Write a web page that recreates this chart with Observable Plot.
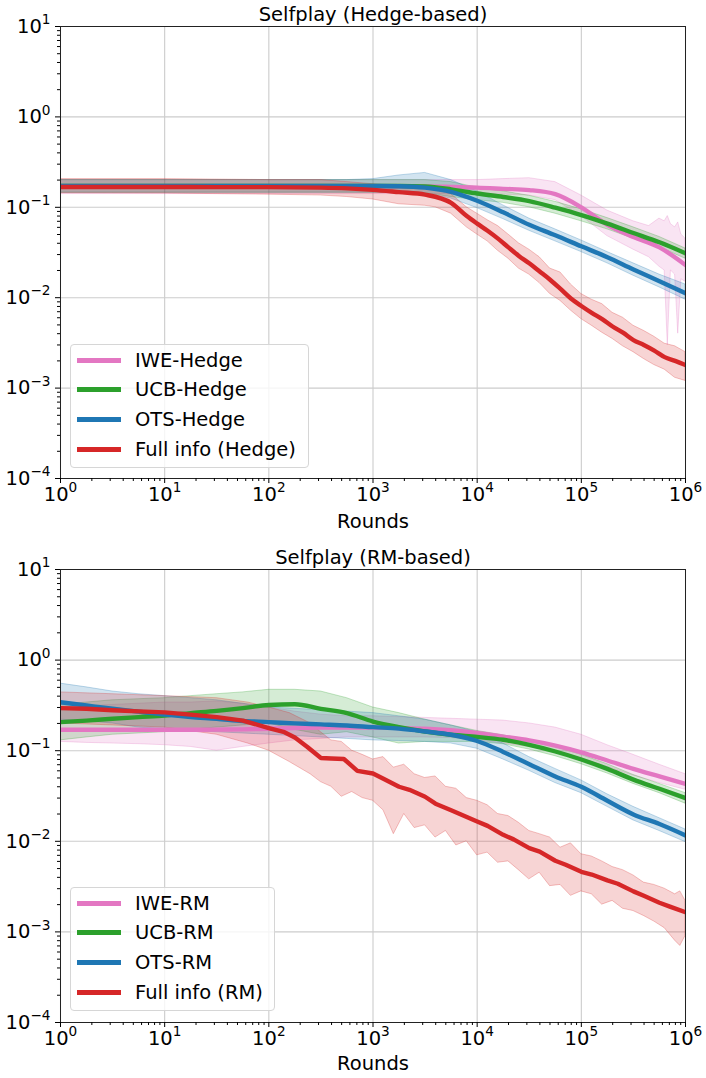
<!DOCTYPE html>
<html><head><meta charset="utf-8">
<script src="https://cdn.jsdelivr.net/npm/d3@7"></script>
<script src="https://cdn.jsdelivr.net/npm/@observablehq/plot@0.6"></script>
<style>
body{margin:0;background:#fff;font-family:"DejaVu Sans",sans-serif;}
#wrap{position:relative;width:706px;height:1078px;overflow:hidden;}
.panel{position:relative;width:706px;height:539px;}
.panel svg{display:block;}
.legend{position:absolute;background:rgba(255,255,255,0.8);border:1px solid #d6d6d6;border-radius:4px;box-sizing:border-box;font-size:19.5px;color:#000;}
.legend .sw{position:absolute;left:6px;width:44px;height:5px;}
.legend .lab{position:absolute;left:64px;white-space:nowrap;line-height:1;}
</style></head>
<body><div id="wrap"></div>
<script>
// ---------------- data (x given as log10 of Rounds) ----------------
const xMajor = [1, 10, 100, 1000, 10000, 100000, 1000000];
const yMajor = [1e-4, 1e-3, 1e-2, 1e-1, 1, 10];

// Top panel: Selfplay (Hedge-based)
const topX = [0,0.5,1,1.5,2,2.5,2.75,3,3.25,3.5,3.75,4,4.25,4.5,4.75,5,5.25,5.5,5.75,6];
const topIWE = [0.17,0.17,0.17,0.17,0.17,0.17,0.17,0.17,0.17,0.17,0.168,0.165,0.16,0.155,0.14,0.1,0.064,0.047,0.036,0.023];
const topUCB = [0.172,0.172,0.172,0.172,0.172,0.172,0.172,0.172,0.172,0.17,0.158,0.142,0.13,0.117,0.099,0.082,0.066,0.052,0.041,0.031];
const topOTS = [0.172,0.172,0.172,0.172,0.172,0.172,0.172,0.172,0.171,0.165,0.148,0.118,0.088,0.064,0.049,0.037,0.028,0.0205,0.0152,0.0112];
const topFullX = [0,0.5,1,1.5,2,2.5,2.75,3,3.25,3.5,3.75,3.9,4,4.1,4.2,4.3,4.4,4.5,4.6,4.7,4.8,4.9,5,5.1,5.2,5.3,5.4,5.5,5.6,5.7,5.8,5.9,6];
const topFull = [0.168,0.168,0.168,0.167,0.167,0.165,0.162,0.156,0.147,0.138,0.112,0.08,0.066,0.055,0.045,0.036,0.029,0.024,0.0195,0.0158,0.0125,0.0098,0.0081,0.0068,0.0058,0.0048,0.0041,0.0034,0.003,0.0026,0.0022,0.002,0.0018];

const topUCBHi = [0.2,0.2,0.2,0.2,0.2,0.2,0.2,0.2,0.2,0.2,0.19,0.165,0.15,0.134,0.115,0.095,0.076,0.06,0.047,0.035];
const topUCBLo = [0.145,0.145,0.145,0.145,0.145,0.145,0.145,0.145,0.145,0.143,0.13,0.12,0.112,0.1,0.085,0.07,0.057,0.045,0.036,0.027];
const topOTSHi = [0.2,0.2,0.2,0.2,0.2,0.2,0.2,0.205,0.225,0.24,0.2,0.15,0.105,0.075,0.057,0.043,0.032,0.024,0.018,0.014];
const topOTSLo = [0.145,0.145,0.145,0.145,0.145,0.145,0.145,0.145,0.145,0.14,0.125,0.098,0.074,0.055,0.042,0.032,0.024,0.0175,0.013,0.0095];

const topIWEBandX = [0,1,2,3,3.5,4,4.25,4.5,4.75,5,5.25,5.5,5.65,5.75,5.8,5.83,5.86,5.9,5.93,5.96,6];
const topIWEHi = [0.2,0.2,0.2,0.2,0.2,0.2,0.205,0.21,0.19,0.135,0.092,0.07,0.062,0.075,0.07,0.08,0.065,0.06,0.068,0.05,0.045];
const topIWELo = [0.14,0.14,0.14,0.14,0.14,0.14,0.138,0.135,0.12,0.08,0.048,0.034,0.028,0.022,0.02,0.003,0.02,0.018,0.004,0.016,0.015];

const topFullBandX = [0,1,2,2.5,2.75,3,3.25,3.5,3.6,3.75,3.9,4,4.1,4.2,4.3,4.4,4.5,4.6,4.7,4.8,4.9,5,5.1,5.2,5.3,5.4,5.5,5.6,5.7,5.8,5.9,6];
const topFullHi = [0.205,0.205,0.2,0.2,0.19,0.18,0.17,0.165,0.155,0.14,0.1,0.085,0.072,0.062,0.05,0.04,0.034,0.028,0.021,0.019,0.014,0.011,0.0095,0.0085,0.0068,0.006,0.0049,0.0043,0.0037,0.0031,0.0029,0.0025];
const topFullLo = [0.143,0.142,0.138,0.135,0.13,0.122,0.108,0.104,0.1,0.085,0.06,0.05,0.042,0.033,0.027,0.021,0.018,0.0145,0.011,0.0092,0.0072,0.0058,0.0049,0.0041,0.0035,0.0029,0.0025,0.0021,0.0018,0.0016,0.0013,0.0012];

// Bottom panel: Selfplay (RM-based)
const botX = [0,0.25,0.5,0.75,1,1.25,1.5,1.75,2,2.25,2.5,2.75,3,3.25,3.5,3.75,4,4.25,4.5,4.75,5,5.25,5.5,5.75,6];
const botIWE = [0.17,0.17,0.17,0.17,0.17,0.17,0.171,0.172,0.175,0.178,0.18,0.18,0.18,0.178,0.175,0.168,0.157,0.143,0.13,0.114,0.096,0.078,0.063,0.052,0.043];
const botIWEHi = [0.3,0.31,0.32,0.33,0.34,0.34,0.35,0.33,0.3,0.27,0.25,0.24,0.24,0.235,0.23,0.225,0.22,0.215,0.2,0.18,0.15,0.115,0.09,0.07,0.055];
const botIWELo = [0.125,0.122,0.12,0.118,0.115,0.11,0.1,0.11,0.12,0.13,0.135,0.14,0.14,0.14,0.14,0.138,0.13,0.12,0.11,0.097,0.082,0.066,0.053,0.044,0.037];
const botUCB = [0.207,0.215,0.225,0.235,0.245,0.26,0.275,0.295,0.32,0.325,0.29,0.26,0.21,0.182,0.163,0.15,0.142,0.132,0.116,0.098,0.08,0.063,0.048,0.038,0.03];
const botUCBHi = [0.32,0.34,0.36,0.37,0.38,0.4,0.42,0.44,0.47,0.47,0.45,0.38,0.3,0.26,0.22,0.19,0.165,0.148,0.13,0.11,0.09,0.071,0.054,0.043,0.034];
const botUCBLo = [0.13,0.14,0.15,0.155,0.16,0.17,0.18,0.19,0.2,0.17,0.15,0.16,0.14,0.12,0.125,0.125,0.125,0.118,0.103,0.087,0.071,0.056,0.043,0.034,0.026];
const botOTS = [0.343,0.315,0.29,0.27,0.25,0.235,0.225,0.213,0.207,0.2,0.195,0.19,0.182,0.175,0.163,0.15,0.128,0.097,0.071,0.052,0.04,0.028,0.0198,0.0155,0.0116];
const botOTSHi = [0.55,0.5,0.45,0.42,0.4,0.38,0.36,0.33,0.3,0.29,0.28,0.27,0.26,0.24,0.22,0.19,0.16,0.12,0.085,0.063,0.047,0.033,0.024,0.018,0.0135];
const botOTSLo = [0.22,0.21,0.2,0.18,0.17,0.165,0.16,0.155,0.15,0.145,0.14,0.135,0.13,0.128,0.125,0.12,0.105,0.08,0.06,0.044,0.034,0.024,0.017,0.013,0.0098];

const botFullX = [0,0.25,0.5,0.75,1,1.25,1.5,1.75,2,2.15,2.25,2.37,2.5,2.6,2.72,2.85,3,3.1,3.25,3.35,3.5,3.6,3.75,3.85,4,4.1,4.25,4.35,4.5,4.6,4.75,4.85,5,5.1,5.25,5.35,5.5,5.6,5.75,5.85,6];
const botFull = [0.295,0.29,0.28,0.272,0.265,0.25,0.235,0.215,0.178,0.16,0.14,0.11,0.083,0.082,0.081,0.06,0.056,0.049,0.04,0.037,0.031,0.026,0.022,0.0196,0.0165,0.0148,0.0118,0.0105,0.0084,0.0077,0.0061,0.0055,0.0046,0.0043,0.0037,0.0034,0.0028,0.0025,0.0021,0.0019,0.00165];
const botFullBandX = [0,0.5,1,1.5,1.8,2,2.2,2.4,2.5,2.6,2.7,2.8,2.9,3,3.1,3.2,3.3,3.4,3.5,3.6,3.7,3.8,3.9,4,4.1,4.2,4.3,4.4,4.5,4.6,4.7,4.8,4.9,5,5.1,5.2,5.3,5.4,5.5,5.6,5.7,5.8,5.9,5.95,6];
const botFullHi = [0.44,0.42,0.4,0.38,0.34,0.3,0.26,0.2,0.16,0.13,0.125,0.1,0.09,0.08,0.085,0.065,0.07,0.055,0.05,0.052,0.04,0.038,0.03,0.028,0.025,0.02,0.019,0.016,0.013,0.012,0.011,0.0085,0.0095,0.0072,0.0068,0.006,0.0052,0.0048,0.0042,0.0035,0.0033,0.003,0.0026,0.0028,0.0022];
const botFullLo = [0.2,0.19,0.18,0.15,0.12,0.1,0.075,0.055,0.045,0.04,0.031,0.035,0.03,0.028,0.022,0.012,0.02,0.014,0.015,0.011,0.013,0.009,0.01,0.007,0.0075,0.0058,0.006,0.0048,0.0038,0.0045,0.0032,0.0033,0.0025,0.0028,0.0026,0.002,0.0022,0.0018,0.0017,0.0015,0.0013,0.0011,0.0008,0.0007,0.0009];

const colors = {IWE: "#e377c2", UCB: "#2ca02c", OTS: "#1f77b4", Full: "#d62728"};

// ---------------- helpers ----------------
const lineRows = (xs, ys) => xs.map((e, i) => ({x: Math.pow(10, e), y: ys[i]}));
const bandRows = (xs, lo, hi) => xs.map((e, i) => ({x: Math.pow(10, e), lo: lo[i], hi: hi[i]}));
const fmtPow = d => "10^" + String(Math.round(Math.log10(d))).replace("-", "\u2212");
const minorOf = majors => {
  const out = [];
  for (let i = 0; i < majors.length - 1; i++) for (let k = 2; k <= 9; k++) out.push(majors[i] * k);
  return out;
};
const xMinor = minorOf(xMajor);
const yMinor = minorOf(yMajor);

// turn "10^e" tick labels into 10 with a real superscript tspan
function superscripts(svg) {
  svg.querySelectorAll("text").forEach(t => {
    const s = t.textContent;
    const m = /^10\^(.+)$/.exec(s);
    if (!m) return;
    while (t.firstChild) t.removeChild(t.firstChild);
    const ns = "http://www.w3.org/2000/svg";
    const base = document.createElementNS(ns, "tspan");
    base.textContent = "10";
    const sup = document.createElementNS(ns, "tspan");
    sup.textContent = m[1];
    sup.setAttribute("font-size", "0.7em");
    sup.setAttribute("dy", "-0.62em");
    t.append(base, sup);
  });
  return svg;
}

function makePanel(cfg) {
  const marks = [
    Plot.gridX(xMajor, {stroke: "#cccccc", strokeOpacity: 1, strokeWidth: 1.1}),
    Plot.gridY(yMajor, {stroke: "#cccccc", strokeOpacity: 1, strokeWidth: 1.1})
  ];
  for (const s of cfg.series) {
    marks.push(Plot.areaY(bandRows(s.bandX, s.lo, s.hi), {
      x: "x", y1: "lo", y2: "hi", fill: s.color, fillOpacity: 0.2,
      stroke: s.color, strokeOpacity: 0.35, strokeWidth: 0.8, clip: true
    }));
  }
  for (const s of cfg.series) {
    marks.push(Plot.line(lineRows(s.x, s.y), {
      x: "x", y: "y", stroke: s.color, strokeWidth: 4.4, curve: s.curve || "monotone-x", clip: true
    }));
  }
  marks.push(
    Plot.frame({stroke: "#222", strokeWidth: 1}),
    Plot.axisX(xMajor, {tickSize: 5, tickPadding: 3.5, tickFormat: fmtPow, label: null, fontSize: 19.5}),
    Plot.axisX(xMinor, {tickSize: 3, tickFormat: () => "", label: null}),
    Plot.axisY(yMajor, {tickSize: 5, tickPadding: 5, tickFormat: fmtPow, label: null, fontSize: 19.5}),
    Plot.axisY(yMinor, {tickSize: 3, tickFormat: () => "", label: null}),
    Plot.text([cfg.title], {text: d => d, frameAnchor: "top", lineAnchor: "bottom", dy: -6, fontSize: 19.5}),
    Plot.text(["Rounds"], {text: d => d, frameAnchor: "bottom", lineAnchor: "bottom", dy: cfg.roundsDy, fontSize: 19.5})
  );
  return superscripts(Plot.plot({
    width: 706, height: 539,
    marginLeft: 60, marginRight: 21, marginTop: cfg.marginTop, marginBottom: cfg.marginBottom,
    style: {fontFamily: "DejaVu Sans", fontSize: "19.5px", color: "#000", background: "#fff", overflow: "visible"},
    x: {type: "log", domain: [1, 1e6]},
    y: {type: "log", domain: [1e-4, 10]},
    marks
  }));
}

function addLegend(panelDiv, box, entries) {
  const lg = document.createElement("div");
  lg.className = "legend";
  Object.assign(lg.style, {left: box.left + "px", top: box.top + "px", width: box.width + "px", height: box.height + "px"});
  entries.forEach((e, i) => {
    const cy = 16 + i * 29.7;
    const sw = document.createElement("div");
    sw.className = "sw";
    sw.style.background = e.color;
    sw.style.top = (cy - 2.5 - 1) + "px";
    const lab = document.createElement("div");
    lab.className = "lab";
    lab.textContent = e.label;
    lab.style.top = (cy - 10.5) + "px";
    lg.append(sw, lab);
  });
  panelDiv.appendChild(lg);
}

const wrap = document.getElementById("wrap");

const p1 = document.createElement("div"); p1.className = "panel";
p1.appendChild(makePanel({
  title: "Selfplay (Hedge-based)", marginTop: 26, marginBottom: 61, roundsDy: 49,
  series: [
    {color: colors.IWE, x: topX, y: topIWE, bandX: topIWEBandX, lo: topIWELo, hi: topIWEHi},
    {color: colors.UCB, x: topX, y: topUCB, bandX: topX, lo: topUCBLo, hi: topUCBHi},
    {color: colors.OTS, x: topX, y: topOTS, bandX: topX, lo: topOTSLo, hi: topOTSHi},
    {color: colors.Full, x: topFullX, y: topFull, bandX: topFullBandX, lo: topFullLo, hi: topFullHi}
  ]
}));
wrap.appendChild(p1);
addLegend(p1, {left: 70, top: 344, width: 239, height: 124}, [
  {label: "IWE-Hedge", color: colors.IWE},
  {label: "UCB-Hedge", color: colors.UCB},
  {label: "OTS-Hedge", color: colors.OTS},
  {label: "Full info (Hedge)", color: colors.Full}
]);

const p2 = document.createElement("div"); p2.className = "panel";
p2.appendChild(makePanel({
  title: "Selfplay (RM-based)", marginTop: 30, marginBottom: 56, roundsDy: 47,
  series: [
    {color: colors.IWE, x: botX, y: botIWE, bandX: botX, lo: botIWELo, hi: botIWEHi},
    {color: colors.UCB, x: botX, y: botUCB, bandX: botX, lo: botUCBLo, hi: botUCBHi},
    {color: colors.OTS, x: botX, y: botOTS, bandX: botX, lo: botOTSLo, hi: botOTSHi},
    {color: colors.Full, x: botFullX, y: botFull, bandX: botFullBandX, lo: botFullLo, hi: botFullHi, curve: "linear"}
  ]
}));
wrap.appendChild(p2);
addLegend(p2, {left: 70, top: 348, width: 205, height: 124}, [
  {label: "IWE-RM", color: colors.IWE},
  {label: "UCB-RM", color: colors.UCB},
  {label: "OTS-RM", color: colors.OTS},
  {label: "Full info (RM)", color: colors.Full}
]);
</script>
</body></html>
